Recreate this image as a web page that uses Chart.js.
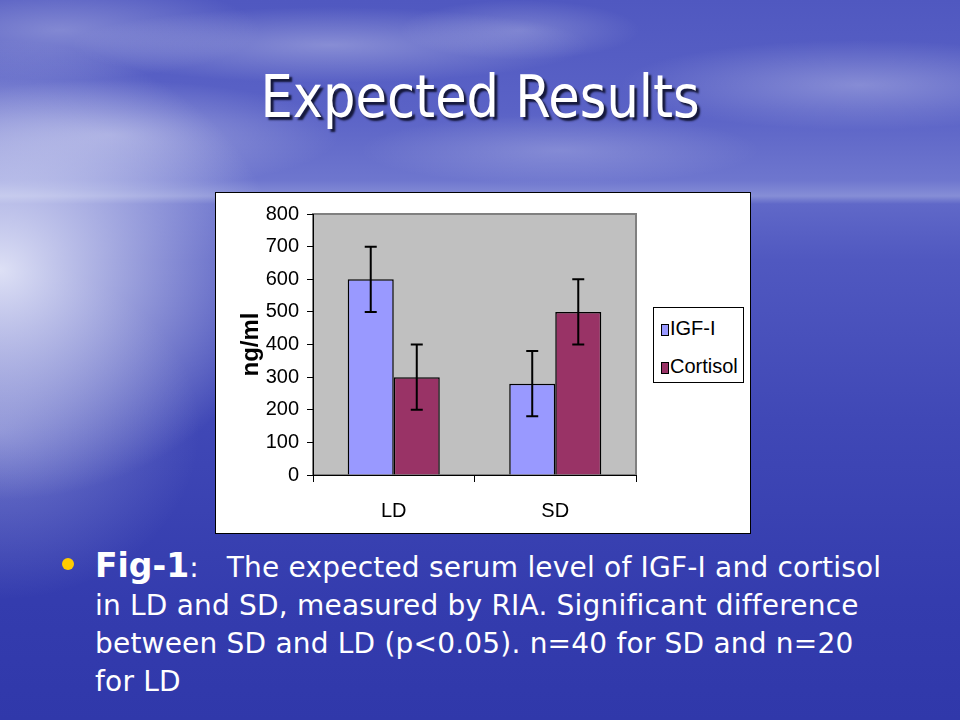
<!DOCTYPE html>
<html>
<head>
<meta charset="utf-8">
<script src="https://cdn.jsdelivr.net/npm/chart.js@4.4.1/dist/chart.umd.min.js"></script>
<style>
  html, body {
    margin: 0;
    padding: 0;
  }
  body {
    width: 960px;
    height: 720px;
    overflow: hidden;
    position: relative;
    font-family: "DejaVu Sans", sans-serif;
    background:
      radial-gradient(ellipse 280px 230px at 0px 270px, rgba(246,248,255,0.85), rgba(246,248,255,0) 100%),
      radial-gradient(ellipse 200px 170px at 0px 430px, rgba(230,234,255,0.30), rgba(230,234,255,0) 100%),
      radial-gradient(ellipse 260px 38px at 330px 45px, rgba(255,255,255,0.30), rgba(255,255,255,0) 100%),
      radial-gradient(ellipse 200px 50px at 60px 30px, rgba(255,255,255,0.28), rgba(255,255,255,0) 100%),
      radial-gradient(ellipse 230px 55px at 110px 135px, rgba(255,255,255,0.34), rgba(255,255,255,0) 100%),
      radial-gradient(ellipse 200px 35px at 560px 150px, rgba(255,255,255,0.20), rgba(255,255,255,0) 100%),
      radial-gradient(ellipse 240px 45px at 860px 85px, rgba(255,255,255,0.28), rgba(255,255,255,0) 100%),
      radial-gradient(ellipse 120px 30px at 520px 30px, rgba(255,255,255,0.22), rgba(255,255,255,0) 100%),
      linear-gradient(to bottom, #5058c0 0px, #5a62c6 110px, #6e76ce 180px, #868ed6 196px, #6068c8 204px, #5058c0 260px, #4048b6 420px, #343cae 600px, #3038aa 720px);
  }
  #title {
    position: absolute;
    left: 0;
    width: 960px;
    top: 62px;
    text-align: center;
    color: #fff;
    font-family: "DejaVu Sans Condensed", "DejaVu Sans", sans-serif;
    font-size: 58px;
    line-height: 70px;
    text-shadow: 3px 3px 2px #15183a;
  }
  #title span {
    display: inline-block;
    transform: scaleX(0.98);
    transform-origin: center;
  }
  #box {
    position: absolute;
    left: 215px;
    top: 192px;
    width: 534px;
    height: 340px;
    background: #fff;
    border: 1px solid #000;
  }
  #legend {
    position: absolute;
    left: 653px;
    top: 307px;
    width: 89px;
    height: 74px;
    background: #fff;
    border: 1px solid #000;
    font-family: "Liberation Sans", Arial, sans-serif;
    font-size: 20px;
    color: #000;
  }
  .item {
    position: absolute;
    left: 7px;
    height: 22px;
    line-height: 22px;
    white-space: nowrap;
  }
  .sw {
    display: inline-block;
    width: 6px;
    height: 10px;
    border: 1px solid #000;
    margin-right: 1px;
    vertical-align: -1px;
  }
  #caption {
    position: absolute;
    left: 95px;
    top: 547px;
    color: #fff;
    font-size: 28px;
    line-height: 38px;
    letter-spacing: 0.2px;
    white-space: nowrap;
  }
  #caption .fig {
    font-weight: bold;
    font-size: 33px;
    letter-spacing: 0;
  }
  #caption .gap {
    display: inline-block;
    width: 28px;
  }
  #bullet {
    position: absolute;
    left: 62px;
    top: 558px;
    width: 12px;
    height: 12px;
    border-radius: 50%;
    background: #ffcc00;
  }
</style>
</head>
<body>
<div id="title"><span>Expected Results</span></div>
<div id="box"><canvas id="myChart" width="534" height="340"></canvas></div>
<div id="legend"></div>
<div id="bullet"></div>
<div id="caption"><span class="fig">Fig-1</span>:<span class="gap"></span>The expected serum level of IGF-I and cortisol<br>in LD and SD, measured by RIA. Significant difference<br>between SD and LD (p&lt;0.05). n=40 for SD and n=20<br>for LD</div>

<script>
const groups = ["LD", "SD"];
const seriesNames = ["IGF-I", "Cortisol"];
const igfValues = [600, 280];
const igfErrors = [100, 100];
const cortisolValues = [300, 500];
const cortisolErrors = [100, 100];
const yTicks = [0, 100, 200, 300, 400, 500, 600, 700, 800];

const axisFont = {
  family: "'Liberation Sans', Arial, sans-serif",
  size: 20,
};

//Gray plot area like the old spreadsheet chart
const plotBackground = {
  id: "plotBackground",
  beforeDraw(chart) {
    const { ctx, chartArea } = chart;
    ctx.save();
    ctx.fillStyle = "#c0c0c0";
    ctx.fillRect(chartArea.left, chartArea.top, chartArea.width, chartArea.height);
    ctx.strokeStyle = "#808080";
    ctx.lineWidth = 2;
    ctx.strokeRect(chartArea.left, chartArea.top, chartArea.width, chartArea.height);
    ctx.restore();
  },
};

//Error bars drawn from the bar elements and the y scale
const errorBars = {
  id: "errorBars",
  afterDatasetsDraw(chart) {
    const { ctx } = chart;
    const yScale = chart.scales.y;
    ctx.save();
    ctx.strokeStyle = "#000";
    ctx.lineWidth = 2;
    chart.data.datasets.forEach((ds, i) => {
      const meta = chart.getDatasetMeta(i);
      meta.data.forEach((bar, j) => {
        const top = yScale.getPixelForValue(ds.data[j] + ds.errors[j]);
        const bottom = yScale.getPixelForValue(ds.data[j] - ds.errors[j]);
        const x = bar.x;
        ctx.beginPath();
        ctx.moveTo(x, top);
        ctx.lineTo(x, bottom);
        ctx.moveTo(x - 6, top);
        ctx.lineTo(x + 6, top);
        ctx.moveTo(x - 6, bottom);
        ctx.lineTo(x + 6, bottom);
        ctx.stroke();
      });
    });
    ctx.restore();
  },
};

const igfDataset = {
  label: seriesNames[0],
  data: igfValues,
  errors: igfErrors,
  backgroundColor: "#9999ff",
  borderColor: "#000",
  borderWidth: 1.5,
  categoryPercentage: 0.57,
  barPercentage: 1,
};
const cortisolDataset = {
  label: seriesNames[1],
  data: cortisolValues,
  errors: cortisolErrors,
  backgroundColor: "#993366",
  borderColor: "#000",
  borderWidth: 1.5,
  categoryPercentage: 0.57,
  barPercentage: 1,
};

var ctx = document.getElementById("myChart");
const myChart = new Chart(ctx, {
  type: "bar",
  data: {
    labels: groups,
    datasets: [igfDataset, cortisolDataset],
  },
  options: {
    responsive: false,
    animation: false,
    devicePixelRatio: 1,
    layout: {
      padding: { left: 0, top: 21, right: 114, bottom: 0 },
    },
    scales: {
      x: {
        afterFit: (scale) => {
          scale.height = 58;
        },
        grid: {
          offset: true,
          drawOnChartArea: false,
          drawTicks: true,
          tickLength: 7,
          color: "#000",
        },
        border: { color: "#000", width: 1 },
        ticks: { color: "#000", font: axisFont, padding: 17 },
      },
      y: {
        min: yTicks[0],
        max: yTicks[yTicks.length - 1],
        afterFit: (scale) => {
          scale.width = 97;
        },
        afterBuildTicks: (scale) => {
          scale.ticks = yTicks.map((v) => ({ value: v }));
        },
        grid: {
          drawOnChartArea: false,
          drawTicks: true,
          tickLength: 6,
          color: "#000",
        },
        border: { color: "#000", width: 1 },
        ticks: { color: "#000", font: axisFont, padding: 8 },
        title: {
          display: true,
          text: "ng/ml",
          color: "#000",
          font: {
            family: "'Liberation Sans', Arial, sans-serif",
            size: 24,
            weight: "bold",
          },
          padding: { top: 21, bottom: 0 },
        },
      },
    },
    plugins: {
      legend: { display: false },
      tooltip: { enabled: false },
    },
  },
  plugins: [plotBackground, errorBars],
});

//Legend box built from the datasets
const legendEl = document.getElementById("legend");
myChart.data.datasets.forEach((ds, i) => {
  const item = document.createElement("div");
  item.className = "item";
  item.style.top = (i == 0 ? 9 : 47) + "px";
  item.innerHTML = `<span class="sw" style="background:${ds.backgroundColor}"></span>${ds.label}`;
  legendEl.appendChild(item);
});
</script>
</body>
</html>
